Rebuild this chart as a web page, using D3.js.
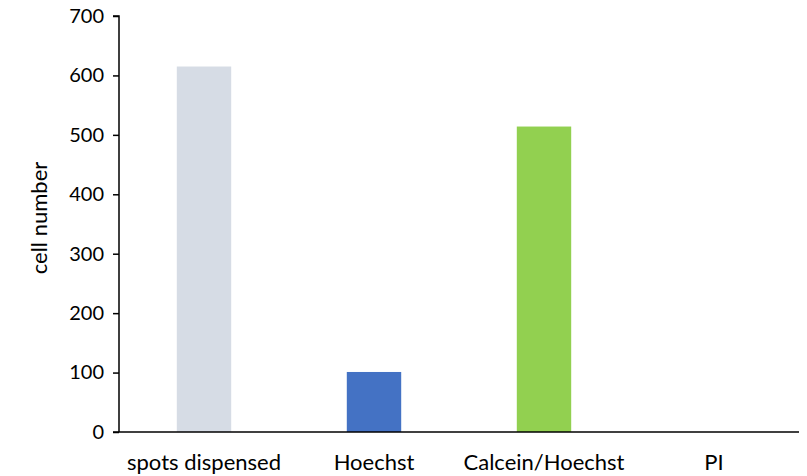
<!DOCTYPE html>
<html><head><meta charset="utf-8">
<script src="https://cdn.jsdelivr.net/npm/d3@7"></script>
<style>body{margin:0;background:#fff}svg{display:block}text{font-family:Lato,"Open Sans",sans-serif;fill:#000}</style>
</head><body><svg id="c" width="807" height="476"></svg>
<script>
const categories = ["spots dispensed","Hoechst","Calcein/Hoechst","PI"];
const values = [615, 101, 514, 0];
const colors = ["#d6dce5","#4472c4","#92d050","#a5a5a5"];
const yTicks = [0,100,200,300,400,500,600,700];

const svg = d3.select("#c");
const x0 = 119, x1 = 799, yBase = 432, yTop = 16;
const x = d3.scaleBand().domain(categories).range([x0, x1]).padding(0);
const y = d3.scaleLinear().domain([0,700]).range([yBase, yTop]);
const bw = x.bandwidth()*0.32;

svg.append("g").selectAll("rect").data(categories).join("rect")
  .attr("x", d => x(d) + x.bandwidth()/2 - bw/2)
  .attr("y", (d,i) => y(values[i]))
  .attr("width", bw)
  .attr("height", (d,i) => yBase - y(values[i]))
  .attr("fill", (d,i) => colors[i]);

const ya = svg.append("g").attr("transform", `translate(${x0},0)`)
  .call(d3.axisLeft(y).tickValues(yTicks).tickSize(6).tickPadding(9));
ya.attr("font-size", 20).attr("font-family","Lato,'Open Sans',sans-serif");
ya.selectAll("path,line").attr("stroke","#000").attr("stroke-width",1.5);
ya.select("path").attr("d", `M-6,${yTop}H0V${yBase}`);
ya.selectAll("text").attr("fill","#000");

svg.append("line").attr("x1",113).attr("x2",x1).attr("y1",yBase).attr("y2",yBase)
  .attr("stroke","#000").attr("stroke-width",1.5);

const xa = svg.append("g").attr("transform", `translate(0,${yBase})`)
  .call(d3.axisBottom(x).tickSize(0));
xa.attr("font-size", 22).attr("font-family","Lato,'Open Sans',sans-serif");
xa.select("path").remove();
xa.selectAll("text").attr("fill","#000").attr("y", 38).attr("dy", 0);

svg.append("text").attr("transform",`translate(47,218) rotate(-90)`)
  .attr("text-anchor","middle").attr("font-size",22).text("cell number");
</script></body></html>
